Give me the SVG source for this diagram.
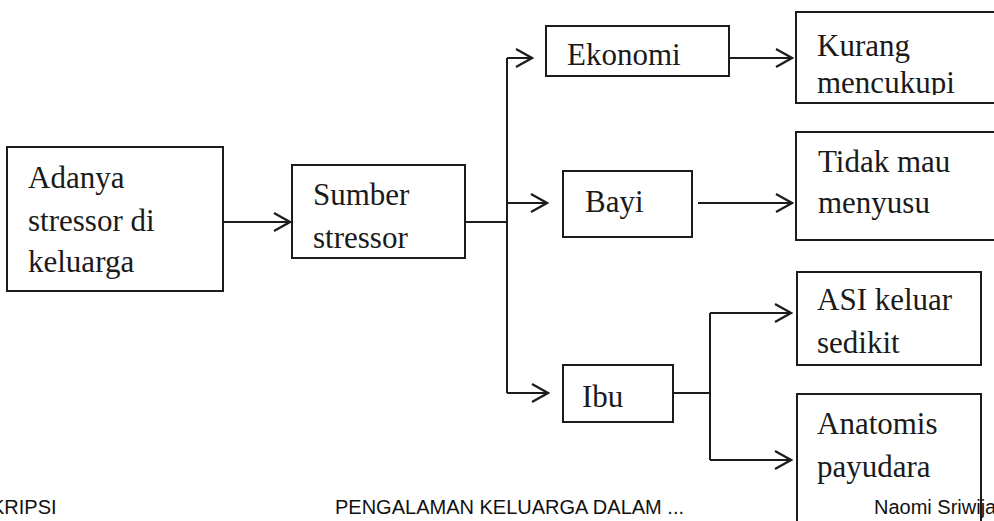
<svg xmlns="http://www.w3.org/2000/svg" width="994" height="521" viewBox="0 0 994 521">
  <style>
    .box { fill: #ffffff; stroke: #1c1c1c; stroke-width: 2; }
    .lbl { font-family: "Liberation Serif", "Times New Roman", serif; font-size: 31px; fill: #1a1a1a; }
    .wire { fill: none; stroke: #1c1c1c; stroke-width: 2; }
    .foot { font-family: "Liberation Sans", Arial, sans-serif; font-size: 20px; fill: #111111; }
  </style>
  <defs>
    <marker id="chev" viewBox="0 0 20 20" refX="18" refY="10" markerWidth="20" markerHeight="20" markerUnits="userSpaceOnUse" orient="auto">
      <path d="M2,1 L18,10 L2,19" fill="none" stroke="#1c1c1c" stroke-width="2.2"/>
    </marker>
    <clipPath id="clipKurang">
      <rect x="797" y="13" width="200" height="82"/>
    </clipPath>
  </defs>
  <rect width="994" height="521" fill="#ffffff"/>

  <!-- connectors -->
  <g id="connectors">
    <path class="wire" d="M223,222 H290" marker-end="url(#chev)"/>
    <path class="wire" d="M465,222 H507"/>
    <path class="wire" d="M507,58 V393"/>
    <path class="wire" d="M507,58 H532" marker-end="url(#chev)"/>
    <path class="wire" d="M507,203 H547" marker-end="url(#chev)"/>
    <path class="wire" d="M507,393 H548" marker-end="url(#chev)"/>
    <path class="wire" d="M729,58 H792" marker-end="url(#chev)"/>
    <path class="wire" d="M698,203 H792" marker-end="url(#chev)"/>
    <path class="wire" d="M673,393 H710"/>
    <path class="wire" d="M710,313 V460"/>
    <path class="wire" d="M710,313 H791" marker-end="url(#chev)"/>
    <path class="wire" d="M710,460 H791" marker-end="url(#chev)"/>
  </g>

  <g id="node-adanya">
    <rect class="box" x="7" y="147" width="216" height="144"/>
    <text class="lbl" x="28" y="188">Adanya</text>
    <text class="lbl" x="28" y="231">stressor di</text>
    <text class="lbl" x="28" y="272">keluarga</text>
  </g>

  <g id="node-sumber">
    <rect class="box" x="292" y="165" width="173" height="93"/>
    <text class="lbl" x="313" y="205">Sumber</text>
    <text class="lbl" x="313" y="248">stressor</text>
  </g>

  <g id="node-ekonomi">
    <rect class="box" x="546" y="26" width="183" height="50"/>
    <text class="lbl" x="567" y="65">Ekonomi</text>
  </g>

  <g id="node-bayi">
    <rect class="box" x="563" y="171" width="129" height="66"/>
    <text class="lbl" x="585" y="212">Bayi</text>
  </g>

  <g id="node-ibu">
    <rect class="box" x="563" y="365" width="110" height="57"/>
    <text class="lbl" x="582" y="407">Ibu</text>
  </g>

  <g id="node-kurang">
    <rect class="box" x="796" y="12" width="220" height="91"/>
    <g clip-path="url(#clipKurang)">
      <text class="lbl" x="817" y="56">Kurang</text>
      <text class="lbl" x="817" y="93">mencukupi</text>
    </g>
  </g>

  <g id="node-tidak">
    <rect class="box" x="796" y="132" width="220" height="108"/>
    <text class="lbl" x="818" y="172">Tidak mau</text>
    <text class="lbl" x="818" y="213">menyusu</text>
  </g>

  <g id="node-asi">
    <rect class="box" x="797" y="272" width="184" height="93"/>
    <text class="lbl" x="817" y="310">ASI keluar</text>
    <text class="lbl" x="817" y="353">sedikit</text>
  </g>

  <g id="node-anatomis">
    <rect class="box" x="797" y="394" width="184" height="140"/>
    <text class="lbl" x="817" y="434">Anatomis</text>
    <text class="lbl" x="817" y="477">payudara</text>
  </g>

  <!-- page footer -->
  <g id="footer">
    <text class="foot" x="-9" y="514">KRIPSI</text>
    <text class="foot" x="335" y="514">PENGALAMAN KELUARGA DALAM ...</text>
    <text class="foot" x="874" y="514">Naomi Sriwija</text>
  </g>
</svg>
